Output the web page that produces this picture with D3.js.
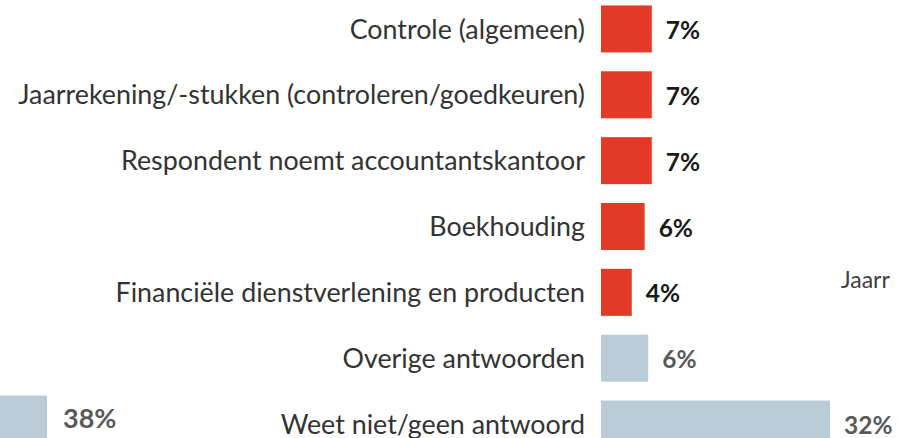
<!DOCTYPE html>
<html lang="nl">
<head>
  <meta charset="UTF-8">
  <title>Bar Chart</title>
  <script src="https://d3js.org/d3.v7.min.js"></script>
  <style>
    body { margin: 0; background: #fff; }
    svg { display: block; font-family: Lato, "Open Sans", sans-serif; }
  </style>
</head>
<body>
  <div class="main"></div>
<script>
  // categories and values (percent)
  var categories = [
    "Controle (algemeen)",
    "Jaarrekening/-stukken (controleren/goedkeuren)",
    "Respondent noemt accountantskantoor",
    "Boekhouding",
    "Financiële dienstverlening en producten",
    "Overige antwoorden",
    "Weet niet/geen antwoord"
  ];
  var values = [7.1, 7.1, 7.1, 6.1, 4.3, 6.6, 32];
  var valueLabels = ["7%", "7%", "7%", "6%", "4%", "6%", "32%"];
  var groups = ["topic", "topic", "topic", "topic", "topic", "other", "other"];

  // clipped neighbour panel on the left
  var leftValues = [38];
  var leftLabels = ["38%"];
  var sideTitle = "Jaarr";

  let width = 897;
  let height = 438;
  let svg = d3.select(".main").append("svg").attr("width", width).attr("height", height);

  let colors = { topic: "#e33a27", other: "#b8cbd7" };
  let labelColors = { topic: "#1a1a1a", other: "#595959" };

  let x = d3.scaleLinear().domain([0, 32]).range([601, 830]);
  let y = d3.scaleBand().domain(categories).range([-4, 457]).paddingInner(0.286).paddingOuter(0.143);

  // category labels
  let cat = svg.selectAll(".cat").data(categories).enter().append("text")
    .attr("class", "cat")
    .attr("x", 585)
    .attr("y", d => y(d) + y.bandwidth() / 2)
    .attr("dy", "0.36em")
    .attr("text-anchor", "end")
    .style("font-size", "22px")
    .style("fill", "#333")
    .text(d => d);

  // fit the widest label to the picture width
  let widest = d3.max(cat.nodes(), n => n.getComputedTextLength());
  cat.style("font-size", (22 * 567 / widest) + "px");

  // bars
  svg.selectAll(".bar").data(values).enter().append("rect")
    .attr("class", "bar")
    .attr("x", x(0))
    .attr("y", (d, i) => y(categories[i]))
    .attr("width", d => x(d) - x(0))
    .attr("height", y.bandwidth())
    .style("fill", (d, i) => colors[groups[i]]);

  // value labels
  svg.selectAll(".val").data(values).enter().append("text")
    .attr("class", "val")
    .attr("x", d => x(d) + 14)
    .attr("y", (d, i) => y(categories[i]) + y.bandwidth() / 2 + 10)
    .style("font-size", "24.5px")
    .style("font-weight", "bold")
    .style("fill", (d, i) => labelColors[groups[i]])
    .text((d, i) => valueLabels[i]);

  // left panel (cut off by the frame)
  let dx = 47 - x(leftValues[0]);
  let left = svg.append("g").attr("transform", "translate(" + dx + ",-5)");
  left.selectAll("rect").data(leftValues).enter().append("rect")
    .attr("x", x(0))
    .attr("y", y(categories[6]))
    .attr("width", d => x(d) - x(0))
    .attr("height", y.bandwidth())
    .style("fill", colors.other);
  left.selectAll("text").data(leftValues).enter().append("text")
    .attr("x", d => x(d) + 16)
    .attr("y", y(categories[6]) + y.bandwidth() / 2 + 8.5)
    .style("font-size", "27px")
    .style("font-weight", "bold")
    .style("fill", labelColors.other)
    .text((d, i) => leftLabels[i]);

  // side title, cut off at the right edge
  svg.append("text").attr("x", 841).attr("y", 288)
    .style("font-size", "23px").style("fill", "#404040")
    .text(sideTitle);
</script>
</body>
</html>
